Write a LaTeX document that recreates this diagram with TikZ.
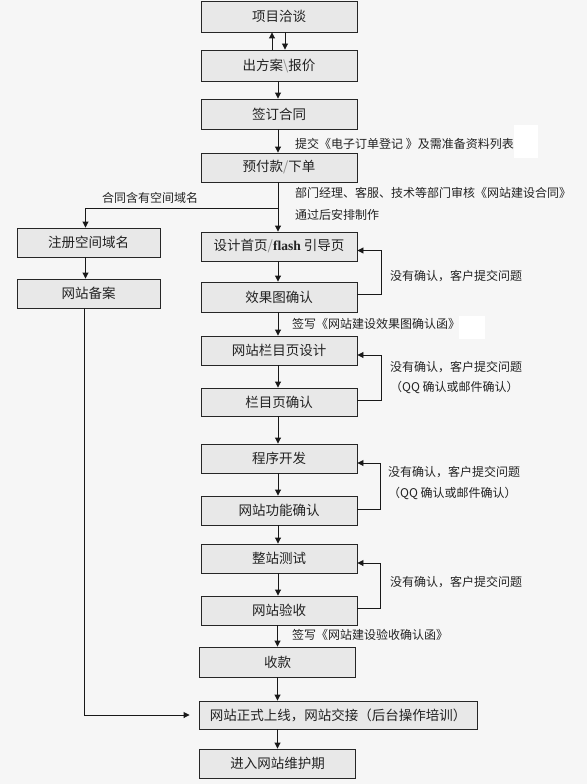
\documentclass[tikz,border=0pt]{standalone}
\usepackage{fontspec}
\newfontfamily\cjk{Noto Sans CJK SC}
\newfontfamily\serf{Liberation Serif}
\usetikzlibrary{arrows.meta,calc}
\definecolor{bgc}{HTML}{F6F6F6}
\definecolor{boxc}{HTML}{E8E8E8}
\definecolor{txt}{HTML}{222222}
\tikzset{
  box/.style={draw=black!85, fill=boxc, line width=0.9pt, minimum height=29pt, inner sep=0pt,
    font=\cjk\fontsize{13.5}{14}\selectfont, text=txt},
  mbox/.style={box, minimum width=156pt},
  lbox/.style={box, minimum width=143pt},
  lbl/.style={anchor=west, inner sep=0pt, font=\cjk\fontsize{12}{13}\selectfont, text=txt},
  arr/.style={draw=black!90, line width=0.9pt, -{Triangle[length=6pt,width=6pt]}},
  ln/.style={draw=black!90, line width=0.9pt},
  patch/.style={fill=white, draw=none}
}
\begin{document}
\begin{tikzpicture}[x=1pt,y=-1pt]
\fill[bgc] (0,0) rectangle (587,784);
\useasboundingbox (0,0) rectangle (587,784);

% white patches
\fill[patch] (514,125) rectangle (538,158);
\fill[patch] (459,316) rectangle (485,339);

% main boxes
\node[mbox, minimum height=31pt] (n1) at (279,16.5) {项目洽谈};
\node[mbox, minimum height=31pt] (n2) at (279,65.5) {出方案{\color{black!45}\textbackslash}报价};
\node[mbox, minimum height=30pt] (n3) at (279,114) {签订合同};
\node[mbox] (n4) at (279,167.5) {预付款{\color{black!45}/}下单};
\node[mbox] (n5) at (279,246.5) {设计首页{\color{black!45}/}{\serf\bfseries flash} 引导页};
\node[mbox, minimum height=30pt] (n6) at (279,297) {效果图确认};
\node[mbox] (n7) at (279,350.5) {网站栏目页设计};
\node[mbox, minimum height=28pt] (n8) at (279,402) {栏目页确认};
\node[mbox] (n9) at (279,458.5) {程序开发};
\node[mbox] (n10) at (279,510.5) {网站功能确认};
\node[mbox] (n11) at (279,558.5) {整站测试};
\node[mbox] (n12) at (279,610.5) {网站验收};
\node[mbox, minimum height=30pt] (n13) at (277.5,662) {收款};
\node[box, minimum width=278pt, minimum height=28pt] (n14) at (338,715) {网站正式上线，网站交接（后台操作培训）};
\node[mbox] (n15) at (277.5,763.5) {进入网站维护期};

% left boxes
\node[lbox] (r1) at (88.5,242.5) {注册空间域名};
\node[lbox] (r2) at (88.5,293.5) {网站备案};

% arrows n1 <-> n2
\draw[arr] ([xshift=-7pt]n2.north) -- ([xshift=-7pt]n1.south);
\draw[arr] ([xshift=6pt]n1.south) -- ([xshift=6pt]n2.north);

% main chain
\draw[arr] ([xshift=-1pt]n2.south) -- ([xshift=-1pt]n3.north);
\draw[arr] ([xshift=-1pt]n3.south) -- ([xshift=-1pt]n4.north);
\coordinate (br) at ($(n4.south)+(-1,26)$);
\draw[arr] ([xshift=-1pt]n4.south) -- ([xshift=-1pt]n5.north);
\draw[arr] ([xshift=-1pt]n5.south) -- ([xshift=-1pt]n6.north);
\draw[arr] ([xshift=-1pt]n6.south) -- ([xshift=-1pt]n7.north);
\draw[arr] ([xshift=-1pt]n7.south) -- ([xshift=-1pt]n8.north);
\draw[arr] ([xshift=-1pt]n8.south) -- ([xshift=-1pt]n9.north);
\draw[arr] ([xshift=-1pt]n9.south) -- ([xshift=-1pt]n10.north);
\draw[arr] ([xshift=-1pt]n10.south) -- ([xshift=-1pt]n11.north);
\draw[arr] ([xshift=-1pt]n11.south) -- ([xshift=-1pt]n12.north);
\draw[arr] ([xshift=-1.5pt]n12.south) -- ([xshift=-1.5pt]n12.south |- n13.north);
\draw[arr] (n13.south) -- (n13.south |- n14.north);
\draw[arr] (n13.south |- n14.south) -- (n15.north);

% branch to left
\draw[arr] (br) -| ([xshift=-3pt]r1.north);
\draw[arr] ([xshift=-3pt]r1.south) -- ([xshift=-3pt]r2.north);
\draw[arr, shorten >=9pt] ([xshift=-4pt]r2.south) |- (n14.west);

% feedback loops
\draw[arr] ([yshift=3pt]n6.east) -- ++(24,0) |- ([yshift=-4pt]n5.east);
\draw[arr] ([yshift=2pt]n8.east) -- ++(24,0) |- ([yshift=-4.5pt]n7.east);
\draw[arr] ([yshift=1.5pt]n10.east) -- ++(23,0) |- ([yshift=-4.5pt]n9.east);
\draw[arr] ([yshift=2.5pt]n12.east) -- ++(23,0) |- ([yshift=-4.5pt]n11.east);

% labels
\node[lbl] (l1) at (295,144) {提交《电子订单登记 》及需准备资料列表};
\node[lbl] (l2) at (295,193) {部门经理、客服、技术等部门审核《网站建设合同》};
\node[lbl] (l3) at (295,215) {通过后安排制作};
\node[lbl] (l4) at (102,198) {合同含有空间域名};
\node[lbl] (l5) at (390,276) {没有确认，客户提交问题};
\node[lbl] (l6) at (292,324) {签写《网站建设效果图确认函》};
\node[lbl] (l7) at (390,367) {没有确认，客户提交问题};
\node[lbl] (l8) at (390,387) {（QQ 确认或邮件确认）};
\node[lbl] (l9) at (388,472) {没有确认，客户提交问题};
\node[lbl] (l10) at (388,493) {（QQ 确认或邮件确认）};
\node[lbl] (l11) at (390,582) {没有确认，客户提交问题};
\node[lbl] (l12) at (292,635) {签写《网站建设验收确认函》};
\end{tikzpicture}
\end{document}
